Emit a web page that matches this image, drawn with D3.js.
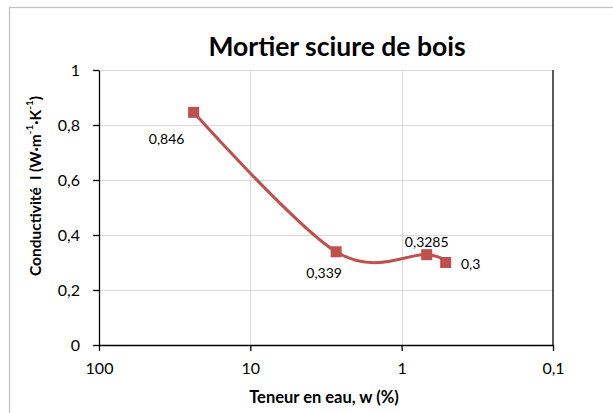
<!DOCTYPE html>
<html>
<head>
<meta charset="utf-8">
<script src="https://cdn.jsdelivr.net/npm/d3@7"></script>
<style>
  html, body { margin: 0; padding: 0; background: #fff; }
  svg { display: block; font-family: Lato, "Open Sans", sans-serif; }
</style>
</head>
<body>
<svg id="chart" width="613" height="413"></svg>
<script>
// ---- data ----
const waterContent = [23.7, 2.71, 0.683, 0.512];      // w (%)
const conductivity = [0.846, 0.339, 0.3285, 0.3];      // W·m-1·K-1
const pointLabels = ["0,846", "0,339", "0,3285", "0,3"];
const xTickValues = [100, 10, 1, 0.1];
const xTickLabels = ["100", "10", "1", "0,1"];
const yTickValues = [0, 0.2, 0.4, 0.6, 0.8, 1];
const yTickLabels = ["0", "0,2", "0,4", "0,6", "0,8", "1"];
const titleText = "Mortier sciure de bois";
const xTitleText = "Teneur en eau, w (%)";

// ---- layout ----
const labelOffsets = [[-27, 26], [-12, 21], [0, -13], [25, 1]];
const plot = { left: 99, right: 553, top: 70, bottom: 345 };
const red = "#C0504D";

const svg = d3.select("#chart");

const x = d3.scaleLog().domain([100, 0.1]).range([plot.left, plot.right]);
const y = d3.scaleLinear().domain([0, 1]).range([plot.bottom, plot.top]);

// outer chart-area border
svg.append("rect")
  .attr("x", 9.5).attr("y", 7.5)
  .attr("width", 700).attr("height", 500)
  .attr("fill", "none").attr("stroke", "#BFBFBF").attr("stroke-width", 1.2);

// horizontal gridlines
svg.append("g").selectAll("line")
  .data(yTickValues.filter(v => v > 0))
  .join("line")
  .attr("x1", plot.left).attr("x2", plot.right)
  .attr("y1", d => Math.round(y(d)) + 0.5).attr("y2", d => Math.round(y(d)) + 0.5)
  .attr("stroke", "#D9D9D9").attr("stroke-width", 1);

// vertical gridlines
svg.append("g").selectAll("line")
  .data(xTickValues.filter(v => v < 100 && v > 0.1))
  .join("line")
  .attr("x1", d => Math.round(x(d)) + 0.5).attr("x2", d => Math.round(x(d)) + 0.5)
  .attr("y1", plot.top).attr("y2", plot.bottom)
  .attr("stroke", "#D9D9D9").attr("stroke-width", 1);

// x axis
const xAxis = d3.axisBottom(x)
  .tickValues(xTickValues)
  .tickFormat((d, i) => xTickLabels[i])
  .tickSizeInner(6).tickSizeOuter(0).tickPadding(12);
const gx = svg.append("g")
  .attr("transform", `translate(0,${plot.bottom})`)
  .call(xAxis);
gx.select(".domain").attr("stroke", "#000").attr("stroke-width", 1.3);
gx.selectAll(".tick line").attr("stroke", "#000").attr("stroke-width", 1.3);
gx.selectAll(".tick text").attr("font-size", 16).attr("fill", "#000")
  .attr("font-family", "Lato");

// y axis
const yAxis = d3.axisLeft(y)
  .tickValues(yTickValues)
  .tickFormat((d, i) => yTickLabels[i])
  .tickSizeInner(6).tickSizeOuter(0).tickPadding(13);
const gy = svg.append("g")
  .attr("transform", `translate(${plot.left},0)`)
  .call(yAxis);
gy.select(".domain").attr("stroke", "#000").attr("stroke-width", 1.3);
gy.selectAll(".tick line").attr("stroke", "#000").attr("stroke-width", 1.3);
gy.selectAll(".tick text").attr("font-size", 16).attr("fill", "#000")
  .attr("font-family", "Lato");

// right border line of plot area
svg.append("line")
  .attr("x1", plot.right).attr("x2", plot.right)
  .attr("y1", plot.top).attr("y2", plot.bottom)
  .attr("stroke", "#000").attr("stroke-width", 1.3);

// series
const pts = waterContent.map((w, i) => ({ w, k: conductivity[i], label: pointLabels[i], off: labelOffsets[i] }));

const line = d3.line()
  .x(d => x(d.w)).y(d => y(d.k))
  .curve(d3.curveCatmullRom.alpha(0));

svg.append("path")
  .datum(pts)
  .attr("d", line)
  .attr("fill", "none")
  .attr("stroke", red)
  .attr("stroke-width", 3);

const ms = 11;
svg.append("g").selectAll("rect")
  .data(pts)
  .join("rect")
  .attr("x", d => x(d.w) - ms / 2)
  .attr("y", d => y(d.k) - ms / 2)
  .attr("width", ms).attr("height", ms)
  .attr("fill", red);

svg.append("g").selectAll("text")
  .data(pts)
  .join("text")
  .attr("x", d => x(d.w) + d.off[0])
  .attr("y", d => y(d.k) + d.off[1])
  .attr("text-anchor", "middle")
  .attr("dominant-baseline", "central")
  .attr("font-size", 14)
  .attr("fill", "#000")
  .text(d => d.label);

// title
svg.append("text")
  .attr("x", 337).attr("y", 46)
  .attr("text-anchor", "middle")
  .attr("dominant-baseline", "central")
  .attr("font-size", 26.5).attr("font-weight", "bold")
  .attr("fill", "#000")
  .text(titleText);

// x title
svg.append("text")
  .attr("x", 324).attr("y", 397)
  .attr("text-anchor", "middle")
  .attr("dominant-baseline", "central")
  .attr("font-size", 16.5).attr("font-weight", "bold")
  .attr("fill", "#000")
  .text(xTitleText);

// y title with superscripts
const yt = svg.append("text")
  .attr("transform", `translate(35,186) rotate(-90)`)
  .attr("text-anchor", "middle")
  .attr("dominant-baseline", "central")
  .attr("font-size", 15.5).attr("font-weight", "bold")
  .attr("fill", "#000");
yt.append("tspan").text("Conductivité\u00A0 l (W·m");
yt.append("tspan").attr("dy", -6).attr("font-size", 10).text("-1");
yt.append("tspan").attr("dy", 6).text("·K");
yt.append("tspan").attr("dy", -6).attr("font-size", 10).text("-1");
yt.append("tspan").attr("dy", 6).text(")");
</script>
</body>
</html>
